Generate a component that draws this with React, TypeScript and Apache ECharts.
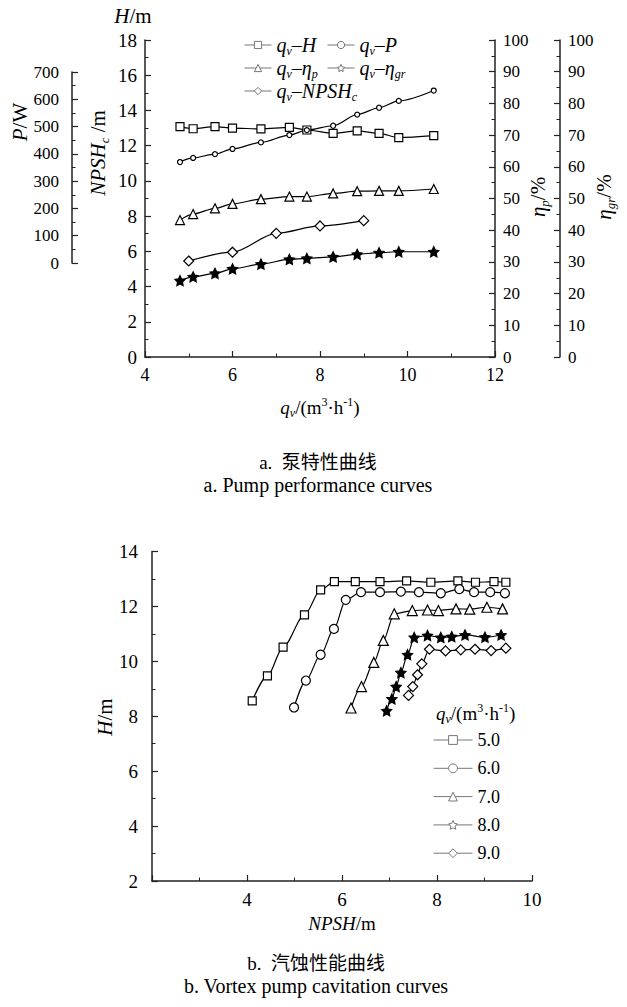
import React, { useEffect, useRef } from 'react';
import * as echarts from 'echarts';

// ---------- Fig. a: pump performance ----------
const pumpFlow = [4.8, 5.1, 5.6, 6.0, 6.65, 7.3, 7.7, 8.3, 8.85, 9.35, 9.8, 10.6];
const pumpHead = [13.08, 12.96, 13.08, 13.0, 12.95, 13.04, 12.89, 12.7, 12.84, 12.7, 12.46, 12.57];
const pumpPower = [370, 385, 399, 418, 442, 469, 487, 503, 544, 569, 594, 632];
const pumpEffP = [43.2, 45.1, 46.9, 48.3, 49.8, 50.6, 50.6, 51.6, 52.3, 52.4, 52.4, 53.0];
const pumpEffGr = [24.1, 25.3, 26.4, 27.8, 29.3, 30.8, 31.1, 31.6, 32.4, 32.9, 33.2, 33.2];
const npshFlow = [5, 6, 7, 8, 9];
const npshC = [5.45, 5.95, 7.02, 7.44, 7.74];

// ---------- Fig. b: cavitation curves ----------
const cavLabels = ['5.0', '6.0', '7.0', '8.0', '9.0'];
const cav5N = [4.11, 4.43, 4.76, 5.21, 5.55, 5.84, 6.28, 6.8, 7.36, 7.87, 8.44, 8.81, 9.2, 9.45];
const cav5H = [8.56, 9.47, 10.52, 11.69, 12.6, 12.9, 12.9, 12.9, 12.93, 12.88, 12.93, 12.88, 12.9, 12.88];
const cav6N = [4.99, 5.24, 5.55, 5.83, 6.08, 6.4, 6.8, 7.24, 7.62, 8.08, 8.47, 8.78, 9.12, 9.43];
const cav6H = [8.32, 9.3, 10.24, 11.18, 12.24, 12.52, 12.52, 12.54, 12.52, 12.48, 12.63, 12.52, 12.52, 12.48];
const cav7N = [6.19, 6.41, 6.67, 6.87, 7.1, 7.48, 7.8, 8.03, 8.4, 8.69, 9.05, 9.38];
const cav7H = [8.3, 9.08, 9.96, 10.76, 11.73, 11.85, 11.87, 11.85, 11.91, 11.9, 11.97, 11.91];
const cav8N = [6.94, 7.05, 7.14, 7.24, 7.38, 7.52, 7.8, 8.08, 8.31, 8.59, 9.01, 9.35];
const cav8H = [8.2, 8.63, 9.08, 9.59, 10.24, 10.87, 10.94, 10.87, 10.9, 10.96, 10.88, 10.96];
const cav9N = [7.4, 7.49, 7.59, 7.68, 7.84, 8.18, 8.5, 8.8, 9.14, 9.45];
const cav9H = [8.76, 9.08, 9.51, 9.91, 10.44, 10.38, 10.42, 10.44, 10.39, 10.48];

// ---------- axis ranges [min, max, step] ----------
const flowRange = [4, 12, 2];
const headRange = [0, 18, 2];
const powerRange = [0, 700, 100];
const effRange = [0, 100, 10];
const npshRange = [2, 10, 2];
const cavHeadRange = [2, 14, 2];

// ---------- layout ----------
const W = 627;
const H = 1007;
const G1 = { left: 145, right: 495, top: 40, bottom: 357 };
const PAX = { x: 72, top: 72, bottom: 263 };
const G2 = { left: 152, right: 532, top: 551.5, bottom: 881 };

const SERIF = '"Liberation Serif", "Times New Roman", "Noto Sans CJK SC", serif';

function makeRich(fs: number, sub: number) {
  return {
    i: { fontFamily: SERIF, fontStyle: 'italic', fontSize: fs, lineHeight: fs + 4, color: '#000' },
    n: { fontFamily: SERIF, fontSize: fs, lineHeight: fs + 4, color: '#000' },
    s: { fontFamily: SERIF, fontStyle: 'italic', fontSize: sub, lineHeight: 8, verticalAlign: 'bottom', color: '#000' },
    sup: { fontFamily: SERIF, fontSize: sub, lineHeight: 8, verticalAlign: 'top', color: '#000' },
    c: { fontFamily: SERIF, fontSize: 19, lineHeight: 24, color: '#000' },
    e: { fontFamily: SERIF, fontSize: 20, lineHeight: 24, color: '#000' },
  };
}
const rich: any = makeRich(19, 12);
const richBig: any = makeRich(21, 13);
const richLegend: any = makeRich(20, 12);

const STAR =
  'path://M0,-10 L2.94,-4.05 L9.51,-3.09 L4.76,1.55 L5.88,8.09 L0,5 L-5.88,8.09 L-4.76,1.55 L-9.51,-3.09 L-2.94,-4.05 Z';

const AX = '#222';
function axisStyle(fontSize: number, margin: number) {
  return {
    axisLine: { show: true, onZero: false, lineStyle: { color: AX, width: 1.5 } },
    axisTick: { show: true, inside: true, length: 6, lineStyle: { color: AX, width: 1.2 } },
    minorTick: { show: true, splitNumber: 2, length: 3.5, lineStyle: { color: AX, width: 1 } },
    splitLine: { show: false },
    minorSplitLine: { show: false },
    axisLabel: { color: '#000', fontFamily: SERIF, fontSize, margin },
  };
}

function series(
  name: string,
  xs: number[],
  ys: number[],
  symbol: string,
  size: number,
  xi: number,
  yi: number,
  fill = '#fff'
) {
  return {
    type: 'line',
    name,
    xAxisIndex: xi,
    yAxisIndex: yi,
    data: xs.map((x, k) => [x, ys[k]]),
    symbol,
    symbolSize: size,
    showAllSymbol: true,
    smooth: 0.3,
    smoothMonotone: 'x',
    lineStyle: { color: '#000', width: 1.2 },
    itemStyle: { color: fill, borderColor: '#000', borderWidth: 1.2 },
    emphasis: { disabled: true },
  };
}

function txt(x: number, y: number, text: string, r: any = rich, align = 'center', rot = 0) {
  return {
    type: 'text',
    x,
    y,
    rotation: rot,
    silent: true,
    style: {
      text,
      rich: r,
      fill: '#000',
      font: `19px ${SERIF}`,
      align,
      textAlign: align,
      verticalAlign: 'middle',
      textVerticalAlign: 'middle',
    },
  };
}

const topNames = ['qv-H', 'qv-P', 'qv-ηp', 'qv-ηgr', 'qv-NPSHc'];
const topLabels: Record<string, string> = {
  'qv-H': '{i|q}{s|v}{n|–}{i|H}',
  'qv-P': '{i|q}{s|v}{n|–}{i|P}',
  'qv-ηp': '{i|q}{s|v}{n|–}{i|η}{s|p}',
  'qv-ηgr': '{i|q}{s|v}{n|–}{i|η}{s|gr}',
  'qv-NPSHc': '{i|q}{s|v}{n|–}{i|NPSH}{s|c}',
};
const topLegendPos = [
  [244, 33],
  [327, 33],
  [244, 56],
  [327, 56],
  [244, 79],
];

export default function App() {
  const ref = useRef<HTMLDivElement>(null);
  useEffect(() => {
    const chart = echarts.init(ref.current!, null, { renderer: 'svg' });
    const pxPer = (PAX.bottom - PAX.top) / (powerRange[1] - powerRange[0]);
    const pMin = -(G1.bottom - PAX.bottom) / pxPer;
    const pMax = (PAX.bottom - G1.top) / pxPer;

    const legendCommon = {
      padding: 0,
      selectedMode: false,
      itemStyle: { color: '#fff', borderColor: '#777', borderWidth: 1 },
      lineStyle: { color: '#777', width: 1 },
    };

    const option: any = {
      animation: false,
      backgroundColor: '#fff',
      grid: [
        { left: G1.left, top: G1.top, width: G1.right - G1.left, height: G1.bottom - G1.top, containLabel: false, outerBoundsMode: 'none' },
        { left: PAX.x, top: PAX.top, width: 1, height: PAX.bottom - PAX.top, containLabel: false, outerBoundsMode: 'none' },
        { left: G2.left, top: G2.top, width: G2.right - G2.left, height: G2.bottom - G2.top, containLabel: false, outerBoundsMode: 'none' },
      ],
      xAxis: [
        { gridIndex: 0, type: 'value', min: flowRange[0], max: flowRange[1], interval: flowRange[2], ...axisStyle(18, 9) },
        { gridIndex: 1, type: 'value', show: false, min: 0, max: 1 },
        {
          gridIndex: 2,
          type: 'value',
          min: npshRange[0],
          max: npshRange[1],
          interval: npshRange[2],
          ...axisStyle(19, 9),
          axisLabel: { color: '#000', fontFamily: SERIF, fontSize: 19, margin: 9, showMinLabel: false },
        },
      ],
      yAxis: [
        { gridIndex: 0, type: 'value', position: 'left', min: headRange[0], max: headRange[1], interval: headRange[2], ...axisStyle(19, 8) },
        { gridIndex: 0, type: 'value', position: 'right', min: effRange[0], max: effRange[1], interval: effRange[2], ...axisStyle(17, 8) },
        { gridIndex: 0, type: 'value', position: 'right', offset: 65, min: effRange[0], max: effRange[1], interval: effRange[2], ...axisStyle(17, 8) },
        { gridIndex: 0, type: 'value', show: false, min: pMin, max: pMax },
        { gridIndex: 1, type: 'value', position: 'left', min: powerRange[0], max: powerRange[1], interval: powerRange[2], ...axisStyle(17, 13) },
        { gridIndex: 2, type: 'value', position: 'left', min: cavHeadRange[0], max: cavHeadRange[1], interval: cavHeadRange[2], ...axisStyle(19, 14) },
      ],
      legend: [
        ...topNames.map((nm, k) => ({
          ...legendCommon,
          data: [nm],
          left: topLegendPos[k][0],
          top: topLegendPos[k][1],
          itemWidth: 27,
          itemHeight: 9,
          textStyle: { color: '#000', fontFamily: SERIF, fontSize: 20, lineHeight: 24, rich: richLegend },
          formatter: (name: string) => topLabels[name],
        })),
        {
          ...legendCommon,
          data: cavLabels,
          orient: 'vertical',
          left: 433,
          top: 729,
          itemWidth: 39,
          itemHeight: 11,
          itemGap: 6.3,
          textStyle: { color: '#000', fontFamily: SERIF, fontSize: 18, lineHeight: 22 },
        },
      ],
      series: [
        series(topNames[0], pumpFlow, pumpHead, 'rect', 8, 0, 0),
        series(topNames[1], pumpFlow, pumpPower, 'circle', 5, 0, 3),
        series(topNames[2], pumpFlow, pumpEffP, 'triangle', 9, 0, 1),
        series(topNames[3], pumpFlow, pumpEffGr, STAR, 10, 0, 2, '#000'),
        series(topNames[4], npshFlow, npshC, 'diamond', 10, 0, 0),
        series(cavLabels[0], cav5N, cav5H, 'rect', 8, 2, 5),
        series(cavLabels[1], cav6N, cav6H, 'circle', 9, 2, 5),
        series(cavLabels[2], cav7N, cav7H, 'triangle', 10, 2, 5),
        series(cavLabels[3], cav8N, cav8H, STAR, 10, 2, 5, '#000'),
        series(cavLabels[4], cav9N, cav9H, 'diamond', 10, 2, 5),
      ],
      graphic: [
        txt(133, 16, '{i|H}{n|/m}', richBig),
        txt(20, 122, '{i|P}{n|/W}', richBig, 'center', Math.PI / 2),
        txt(98, 153, '{i|NPSH}{s|c}{n| /m}', richBig, 'center', Math.PI / 2),
        txt(538, 197, '{i|η}{s|p}{n|/%}', richBig, 'center', Math.PI / 2),
        txt(604, 197, '{i|η}{s|gr}{n|/%}', richBig, 'center', Math.PI / 2),
        txt(320, 407, '{i|q}{s|v}{n|/(m}{sup|3}{n|·h}{sup|-1}{n|)}'),
        txt(318, 462, '{c|a.  泵特性曲线}'),
        txt(318, 485, '{e|a. Pump performance curves}'),
        txt(436, 713, '{i|q}{s|v}{n|/(m}{sup|3}{n|·h}{sup|-1}{n|)}', rich, 'left'),
        txt(105, 717, '{i|H}{n|/m}', richBig, 'center', Math.PI / 2),
        txt(342, 923, '{i|NPSH}{n|/m}'),
        txt(316, 963, '{c|b.  汽蚀性能曲线}'),
        txt(316, 986, '{e|b. Vortex pump cavitation curves}'),
      ],
    };
    chart.setOption(option);
    return () => chart.dispose();
  }, []);
  return (
    <div
      ref={ref}
      style={{ position: 'absolute', left: 0, top: 0, width: W, height: H, background: '#fff' }}
    />
  );
}
